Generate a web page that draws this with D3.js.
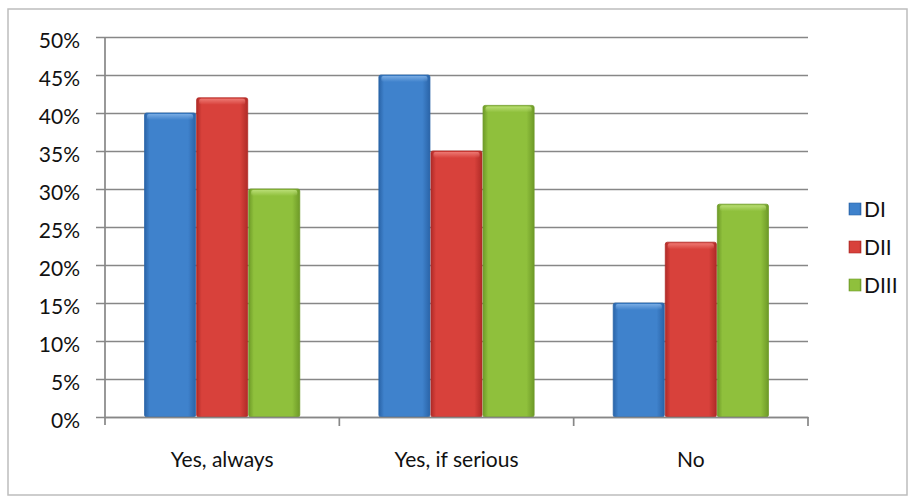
<!DOCTYPE html>
<html>
<head>
<meta charset="utf-8">
<script src="https://cdn.jsdelivr.net/npm/d3@7/dist/d3.min.js"></script>
<style>
  html, body { margin: 0; padding: 0; background: #fff; }
  svg { display: block; }
  text { font-family: Lato, "Open Sans", sans-serif; fill: #111; }
</style>
</head>
<body>
<svg id="chart" width="919" height="497"></svg>
<script>
// Survey answers per group
const categories = ["Yes, always", "Yes, if serious", "No"];
const seriesNames = ["DI", "DII", "DIII"];
const valuesDI   = [40, 45, 15];
const valuesDII  = [42, 35, 23];
const valuesDIII = [30, 41, 28];
const yTicks = [0, 5, 10, 15, 20, 25, 30, 35, 40, 45, 50];
const seriesColors = ["#3f82cc", "#d8413b", "#8fc03c"];
const seriesDark   = ["#2a64a8", "#b02b27", "#6e9a28"];
const seriesLight  = ["#7fb0e6", "#ef7e78", "#bde07a"];

const seriesValues = [valuesDI, valuesDII, valuesDIII];

const svg = d3.select("#chart");
const FONT = "Lato, 'Open Sans', sans-serif";
const FS = 21;

const plot = { left: 105, right: 808, top: 37, bottom: 417 };

// outer chart frame
svg.append("rect")
  .attr("x", 8).attr("y", 9)
  .attr("width", 899).attr("height", 486)
  .attr("fill", "#fff")
  .attr("stroke", "#bdbdbd").attr("stroke-width", 1.5);

// gradients for the bevelled bars
const defs = svg.append("defs");
seriesNames.forEach((s, i) => {
  const g = defs.append("linearGradient")
    .attr("id", "grad" + i).attr("x1", "0").attr("x2", "1").attr("y1", "0").attr("y2", "0");
  g.append("stop").attr("offset", "0%").attr("stop-color", seriesDark[i]);
  g.append("stop").attr("offset", "10%").attr("stop-color", seriesColors[i]);
  g.append("stop").attr("offset", "85%").attr("stop-color", seriesColors[i]);
  g.append("stop").attr("offset", "100%").attr("stop-color", seriesDark[i]);
  const t = defs.append("linearGradient")
    .attr("id", "top" + i).attr("x1", "0").attr("x2", "0").attr("y1", "0").attr("y2", "1");
  t.append("stop").attr("offset", "0%").attr("stop-color", seriesLight[i]).attr("stop-opacity", 0.9);
  t.append("stop").attr("offset", "100%").attr("stop-color", seriesLight[i]).attr("stop-opacity", 0);
});

const y = d3.scaleLinear().domain([0, 50]).range([plot.bottom, plot.top]);
const x0 = d3.scaleBand().domain(categories).range([plot.left, plot.right]).paddingInner(0).paddingOuter(0);
const x1 = d3.scaleBand().domain(seriesNames).range([0, x0.bandwidth()]).paddingInner(0).paddingOuter(0.75);

// horizontal gridlines with left tick marks
const yAxis = d3.axisLeft(y).tickValues(yTicks).tickSize(-(plot.right - plot.left)).tickPadding(25)
  .tickFormat(d => d + "%");
const yg = svg.append("g").attr("transform", `translate(${plot.left},0)`).call(yAxis);
yg.select(".domain").remove();
yg.selectAll(".tick line").attr("stroke", "#878787").attr("stroke-width", 1.7).attr("x1", -9);
yg.selectAll(".tick text")
  .attr("font-size", FS).attr("dy", "0.5em").attr("fill", "#111")
  .style("font-family", FONT);

// vertical axis line
svg.append("line")
  .attr("x1", plot.left).attr("x2", plot.left)
  .attr("y1", plot.top).attr("y2", plot.bottom + 8)
  .attr("stroke", "#878787").attr("stroke-width", 1.7);

// bars
const groups = svg.append("g").selectAll("g")
  .data(categories).join("g")
  .attr("transform", d => `translate(${x0(d)},0)`);

groups.each(function(cat, ci) {
  const g = d3.select(this);
  seriesNames.forEach((s, si) => {
    const v = seriesValues[si][ci];
    const bx = x1(s), bw = x1.bandwidth();
    const by = y(v), bh = y(0) - y(v);
    g.append("rect")
      .attr("x", bx + 0.5).attr("y", by).attr("width", bw - 1).attr("height", bh)
      .attr("rx", 2)
      .attr("fill", `url(#grad${si})`)
      .attr("stroke", seriesDark[si]).attr("stroke-width", 0.8);
    g.append("rect")
      .attr("x", bx + 3).attr("y", by + 1).attr("width", bw - 6).attr("height", 6)
      .attr("rx", 2)
      .attr("fill", `url(#top${si})`);
  });
});

// category axis
const xAxis = d3.axisBottom(x0).tickSize(0).tickPadding(35);
const xg = svg.append("g").attr("transform", `translate(0,${plot.bottom})`).call(xAxis);
xg.select(".domain").attr("stroke", "#878787").attr("stroke-width", 1.7);
xg.selectAll(".tick text").attr("font-size", FS).attr("fill", "#111")
  .style("font-family", FONT);
// tick marks between categories
const bounds = categories.map(c => x0(c) + x0.bandwidth());
svg.append("g").selectAll("line").data(bounds).join("line")
  .attr("x1", d => d).attr("x2", d => d)
  .attr("y1", plot.bottom).attr("y2", plot.bottom + 9)
  .attr("stroke", "#878787").attr("stroke-width", 1.7);

// legend
const legend = svg.append("g").attr("transform", "translate(849,0)");
seriesNames.forEach((s, i) => {
  const cy = 209 + i * 38;
  legend.append("rect")
    .attr("x", 0).attr("y", cy - 6).attr("width", 12).attr("height", 12)
    .attr("fill", `url(#grad${i})`).attr("stroke", seriesDark[i]).attr("stroke-width", 0.6);
  legend.append("text")
    .attr("x", 15).attr("y", cy).attr("dy", "0.36em")
    .attr("font-size", FS).text(s);
});
</script>
</body>
</html>
